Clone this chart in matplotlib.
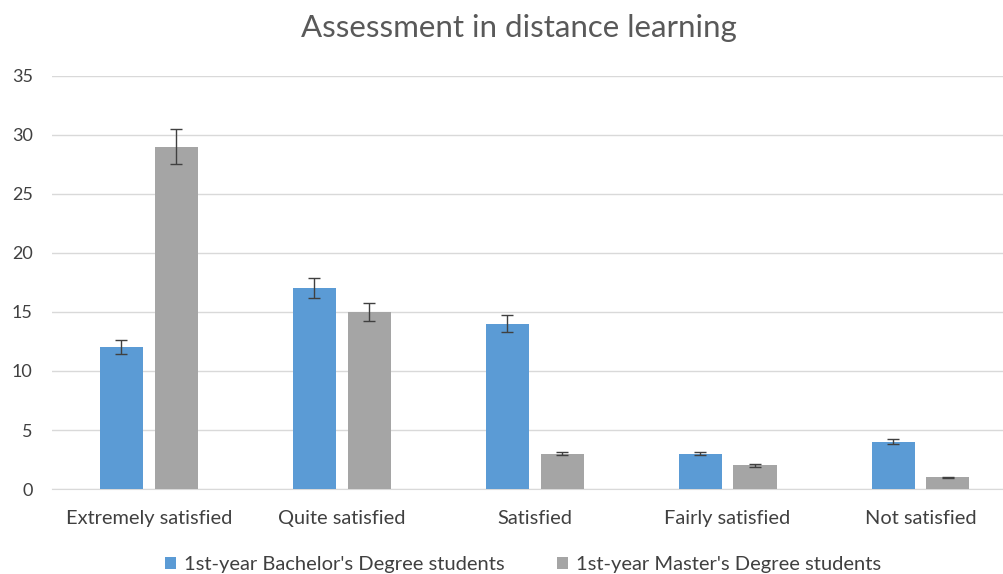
import matplotlib.pyplot as plt
import numpy as np

# data
categories = ['Extremely satisfied', 'Quite satisfied', 'Satisfied',
              'Fairly satisfied', 'Not satisfied']
bachelor = [12, 17, 14, 3, 4]
master = [29, 15, 3, 2, 1]
bachelor_err = [0.6, 0.85, 0.7, 0.15, 0.2]
master_err = [1.45, 0.75, 0.15, 0.1, 0.05]

plt.rcParams['font.family'] = ['Lato', 'DejaVu Sans']

fig = plt.figure(figsize=(10.04, 5.74), dpi=100)
ax = fig.add_axes([0.052, 0.148, 0.961, 0.72])

x = np.arange(len(categories))
w = 0.223
off = 0.142
err_style = dict(ecolor='#404040', elinewidth=1, capsize=4.5, capthick=1)

ax.bar(x - off, bachelor, w, color='#5B9BD5', yerr=bachelor_err,
       error_kw=err_style, label="1st-year Bachelor's Degree students", zorder=3)
ax.bar(x + off, master, w, color='#A5A5A5', yerr=master_err,
       error_kw=err_style, label="1st-year Master's Degree students", zorder=3)

ax.set_xlim(-0.5, len(categories) - 0.5)
ax.set_ylim(0, 35)
ax.set_yticks(range(0, 36, 5))
ax.set_xticks(x)
ax.set_xticklabels(categories)
ax.tick_params(axis='x', length=0, labelsize=14.4, colors='#404040', pad=15)
ax.tick_params(axis='y', length=0, labelsize=13, colors='#404040', pad=14)

ax.grid(axis='y', color='#D9D9D9', linewidth=1, zorder=0)
for s in ['top', 'right', 'left']:
    ax.spines[s].set_visible(False)
ax.spines['bottom'].set_color('#D9D9D9')

fig.text(0.517, 0.952, 'Assessment in distance learning', ha='center',
         va='center', fontsize=22.5, color='#595959')

ax.legend(loc='upper center', bbox_to_anchor=(0.488, -0.118), ncol=2,
          frameon=False, fontsize=14.5, handlelength=0.55, handleheight=0.55,
          handletextpad=0.4, columnspacing=2.6, labelcolor='#404040')

fig.savefig('out.png', dpi=100)
